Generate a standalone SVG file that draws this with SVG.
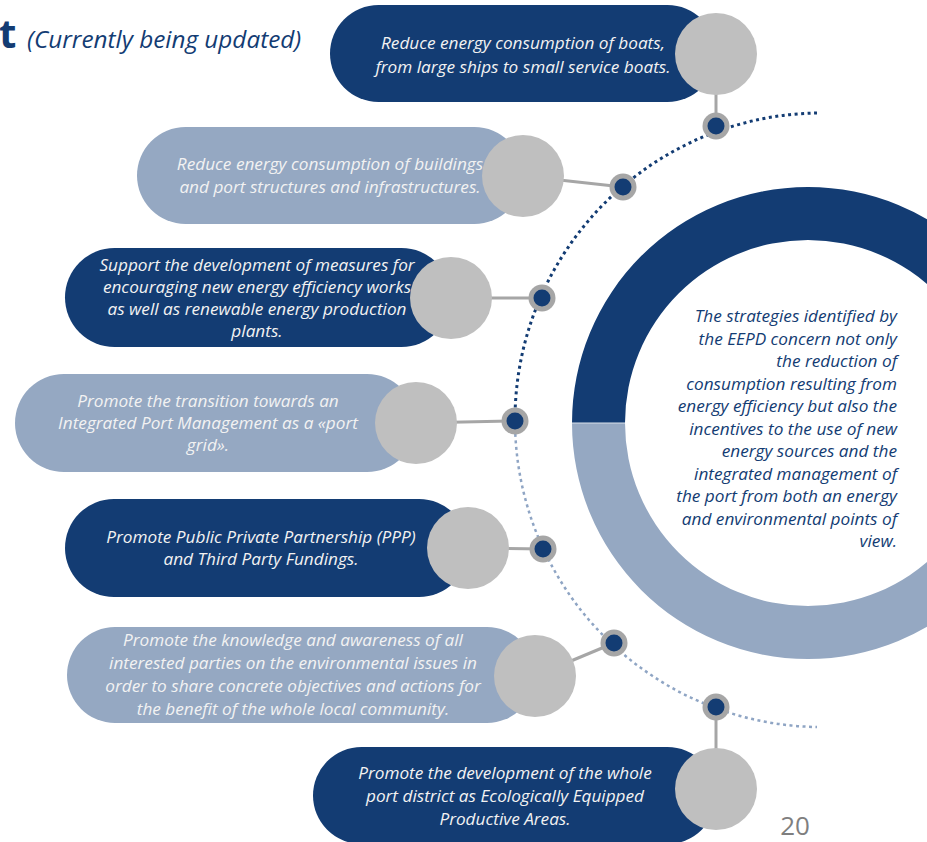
<svg xmlns="http://www.w3.org/2000/svg" width="927" height="842" viewBox="0 0 927 842">
<style>
.pd{fill:#133C73}
.pl{fill:#95A8C2}
.gc{fill:#BFBFBF}
.ln{stroke:#A6A6A6;stroke-width:3;fill:none}
.dr{fill:#A6A6A6}
.di{fill:#133C73}
.t{font-family:"Open Sans","Noto Sans",sans-serif;font-style:italic;font-size:17.2px;fill:#F2F2F2;text-anchor:middle}
.c{font-family:"Open Sans","Noto Sans",sans-serif;font-style:italic;font-size:17.2px;fill:#133C73;text-anchor:end}
</style>
<rect width="927" height="842" fill="#FFFFFF"/>
<g id="title">
<text x="-1" y="48" font-family="Open Sans, sans-serif" font-weight="bold" font-size="40" fill="#133C73">t</text>
<text x="27" y="48" font-family="Open Sans, sans-serif" font-style="italic" font-size="24.3" fill="#133C73">(Currently being updated)</text>
</g>
<g id="ring">
<path d="M572,423 A236,236 0 0 1 1044,423 L991,423 A183,183 0 0 0 625,423 Z" fill="#133C73"/>
<path d="M572,423 A236,236 0 0 0 1044,423 L991,423 A183,183 0 0 1 625,423 Z" fill="#95A8C2"/>
<line x1="572" y1="423" x2="625" y2="423" stroke="#D9E0EA" stroke-width="1"/>
<text class="c"><tspan x="897" y="322">The strategies identified by</tspan><tspan x="897" y="344.5">the EEPD concern not only</tspan><tspan x="897" y="367">the reduction of</tspan><tspan x="897" y="389.5">consumption resulting from</tspan><tspan x="897" y="412">energy efficiency but also the</tspan><tspan x="897" y="434.5">incentives to the use of new</tspan><tspan x="897" y="457">energy sources and the</tspan><tspan x="897" y="479.5">integrated management of</tspan><tspan x="897" y="502">the port from both an energy</tspan><tspan x="897" y="524.5">and environmental points of</tspan><tspan x="897" y="547">view.</tspan></text>
</g>
<g id="connectors">
<path d="M817,113 A307,307 0 0 0 515,421" fill="none" stroke="#133C73" stroke-width="3" stroke-dasharray="3 3.5"/>
<path d="M515,421 A307,307 0 0 0 817,727" fill="none" stroke="#8FA5C4" stroke-width="2.5" stroke-dasharray="3 3.5"/>
<line class="ln" x1="716" y1="54" x2="716" y2="126"/>
<line class="ln" x1="523" y1="176" x2="623" y2="187"/>
<line class="ln" x1="451" y1="298" x2="542" y2="298"/>
<line class="ln" x1="416" y1="423" x2="515" y2="421"/>
<line class="ln" x1="468" y1="548" x2="543" y2="549"/>
<line class="ln" x1="535" y1="676" x2="614" y2="643"/>
<line class="ln" x1="716" y1="789" x2="716" y2="707"/>
</g>
<g id="node1">
<rect class="pd" x="330" y="5" width="386" height="97" rx="48.5"/>
<text class="t"><tspan x="523" y="49">Reduce energy consumption of boats,</tspan><tspan x="523" y="73">from large ships to small service boats.</tspan></text>
<circle class="gc" cx="716" cy="54" r="41"/>
<circle class="dr" cx="716" cy="126" r="13.5"/><circle class="di" cx="716" cy="126" r="8.5"/>
</g>
<g id="node2">
<rect class="pl" x="137" y="127" width="386" height="97" rx="48.5"/>
<text class="t"><tspan x="330" y="170">Reduce energy consumption of buildings</tspan><tspan x="330" y="193">and port structures and infrastructures.</tspan></text>
<circle class="gc" cx="523" cy="176" r="41"/>
<circle class="dr" cx="623" cy="187" r="13.5"/><circle class="di" cx="623" cy="187" r="8.5"/>
</g>
<g id="node3">
<rect class="pd" x="65" y="248" width="386" height="99" rx="49.5"/>
<text class="t"><tspan x="257" y="271">Support the development of measures for</tspan><tspan x="257" y="293">encouraging new energy efficiency works</tspan><tspan x="257" y="315">as well as renewable energy production</tspan><tspan x="257" y="337">plants.</tspan></text>
<circle class="gc" cx="451" cy="298" r="41"/>
<circle class="dr" cx="542" cy="298" r="13.5"/><circle class="di" cx="542" cy="298" r="8.5"/>
</g>
<g id="node4">
<rect class="pl" x="15" y="374" width="401" height="98" rx="49"/>
<text class="t"><tspan x="208" y="407">Promote the transition towards an</tspan><tspan x="208" y="429">Integrated Port Management as a «port</tspan><tspan x="208" y="451">grid».</tspan></text>
<circle class="gc" cx="416" cy="423" r="41"/>
<circle class="dr" cx="515" cy="421" r="13.5"/><circle class="di" cx="515" cy="421" r="8.5"/>
</g>
<g id="node5">
<rect class="pd" x="65" y="499" width="403" height="98" rx="49"/>
<text class="t"><tspan x="261" y="543">Promote Public Private Partnership (PPP)</tspan><tspan x="261" y="565">and Third Party Fundings.</tspan></text>
<circle class="gc" cx="468" cy="548" r="41"/>
<circle class="dr" cx="543" cy="549" r="13.5"/><circle class="di" cx="543" cy="549" r="8.5"/>
</g>
<g id="node6">
<rect class="pl" x="67" y="627" width="468" height="96" rx="48"/>
<text class="t"><tspan x="293" y="646">Promote the knowledge and awareness of all</tspan><tspan x="293" y="669">interested parties on the environmental issues in</tspan><tspan x="293" y="692">order to share concrete objectives and actions for</tspan><tspan x="293" y="715">the benefit of the whole local community.</tspan></text>
<circle class="gc" cx="535" cy="676" r="41"/>
<circle class="dr" cx="614" cy="643" r="13.5"/><circle class="di" cx="614" cy="643" r="8.5"/>
</g>
<g id="node7">
<rect class="pd" x="313" y="747" width="403" height="97" rx="48.5"/>
<text class="t"><tspan x="505" y="779">Promote the development of the whole</tspan><tspan x="505" y="802">port district as Ecologically Equipped</tspan><tspan x="505" y="825">Productive Areas.</tspan></text>
<circle class="gc" cx="716" cy="789" r="41"/>
<circle class="dr" cx="716" cy="707" r="13.5"/><circle class="di" cx="716" cy="707" r="8.5"/>
</g>
<text x="795" y="835" font-family="Open Sans, sans-serif" font-size="26" fill="#7F7F7F" text-anchor="middle">20</text>
</svg>
